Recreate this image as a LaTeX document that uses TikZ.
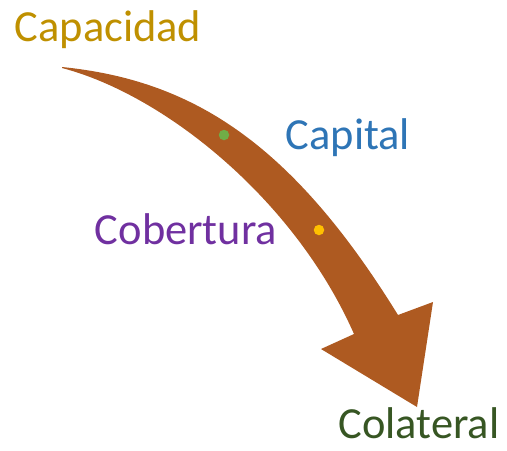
\documentclass[tikz,border=0pt]{standalone}
\usepackage{fontspec}
\setmainfont{Carlito}
\usepackage{tikz}

\definecolor{flecha}{HTML}{AE5A21}
\definecolor{oro}{HTML}{BF9000}
\definecolor{azul}{HTML}{2E75B6}
\definecolor{morado}{HTML}{7030A0}
\definecolor{verde}{HTML}{375623}
\definecolor{puntoverde}{HTML}{70AD47}
\definecolor{puntonaranja}{HTML}{FFC000}

\begin{document}
\begin{tikzpicture}[x=0.02cm, y=-0.02cm,
        etiqueta/.style={anchor=base, inner sep=0pt, font=\fontsize{25.3}{30}\selectfont},
        punto/.style={circle, fill=#1, minimum size=0.21cm, inner sep=0pt}]
        \useasboundingbox (0,0) rectangle (507,450);

        % Curved arrow
        \fill[flecha] (62,67) .. controls (190,80) and (290,140) .. (398,315)
            -- (433,302) -- (417,407) -- (321,349) -- (354,334)
            .. controls (295,200) and (165,95) .. (62,68) -- cycle;

        % Dots on the arrow
        \node[punto=puntoverde] (p1) at (224,135) {};
        \node[punto=puntonaranja] (p2) at (319,230) {};

        % Labels
        \node[etiqueta, text=oro] (capacidad) at (108,41) {Capacidad};
        \node[etiqueta, text=azul] (capital) at (348,149) {Capital};
        \node[etiqueta, text=morado] (cobertura) at (186,244) {Cobertura};
        \node[etiqueta, text=verde] (colateral) at (419,438) {Colateral};
    \end{tikzpicture}
\end{document}
